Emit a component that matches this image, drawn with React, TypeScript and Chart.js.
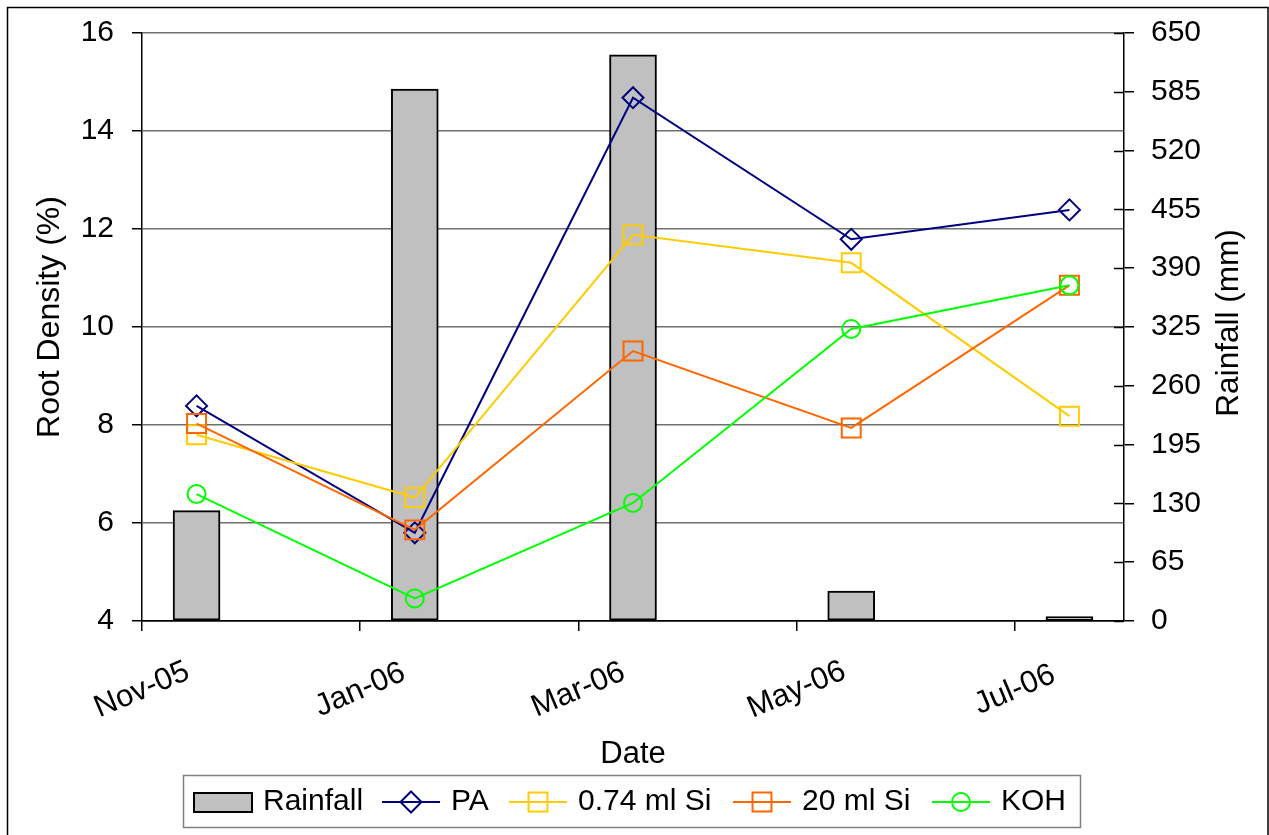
import React, { useEffect, useRef } from 'react';
import { Chart, registerables } from 'chart.js';

Chart.register(...registerables);

// ---- data ----
const sampleMonths = ['Nov-05', 'Jan-06', 'Mar-06', 'May-06', 'Jul-06'];
const tickLabels = ['Nov-05', 'Jan-06', 'Mar-06', 'May-06', 'Jul-06'];
const axisStart = 'Nov-05';
const axisEnd = 'Aug-06';
const rainfallMm = [122, 588, 626, 33, 5];
const paValues = [8.39, 5.8, 14.68, 11.79, 12.39];
const si074Values = [7.8, 6.52, 11.88, 11.31, 8.18];
const si20Values = [8.03, 5.86, 9.51, 7.94, 10.85];
const kohValues = [6.59, 4.46, 6.41, 9.96, 10.85];
const leftTitle = 'Root Density (%)';
const rightTitle = 'Rainfall (mm)';

const FONT = '"Liberation Sans", Arial, Helvetica, sans-serif';
const MONTHS = ['Jan', 'Feb', 'Mar', 'Apr', 'May', 'Jun', 'Jul', 'Aug', 'Sep', 'Oct', 'Nov', 'Dec'];
const monthIndex = (lbl: string) => {
  const [m, y] = lbl.split('-');
  return (2000 + Number(y)) * 12 + MONTHS.indexOf(m);
};
const base = monthIndex(axisStart);
const monthPos = (lbl: string) => monthIndex(lbl) - base;
const pointX = sampleMonths.map((m) => monthPos(m) + 0.5);
const tickPos = tickLabels.map((m) => monthPos(m));

const toXY = (vals: number[]) => vals.map((v, i) => ({ x: pointX[i], y: v }));

const LEGEND_X = [194, 382, 509, 733, 932];

const drawVerticalTitle = (ctx: CanvasRenderingContext2D, text: string, x: number, y: number, size: number) => {
  ctx.save();
  ctx.translate(x, y);
  ctx.rotate(-Math.PI / 2);
  ctx.font = `${size}px ${FONT}`;
  ctx.textAlign = 'center';
  ctx.textBaseline = 'middle';
  ctx.fillStyle = '#000';
  ctx.fillText(text, 0, 0);
  ctx.restore();
};

const decorPlugin = {
  id: 'decor',
  afterDraw(chart: any) {
    const ctx = chart.ctx as CanvasRenderingContext2D;
    const area = chart.chartArea;
    ctx.save();
    // outer border
    ctx.strokeStyle = '#000';
    ctx.lineWidth = 1.5;
    ctx.strokeRect(7.5, 7.5, 1260.5, 835);

    // inner half of right-axis ticks
    const y2 = chart.scales.y2;
    ctx.beginPath();
    y2.ticks.forEach((t: any) => {
      const py = Math.round(y2.getPixelForValue(t.value)) + 0.5;
      ctx.moveTo(y2.left - 10, py);
      ctx.lineTo(y2.left, py);
    });
    ctx.stroke();

    // x tick labels (centered on ticks, rotated)
    const xs = chart.scales.x;
    ctx.fillStyle = '#000';
    ctx.font = `31px ${FONT}`;
    ctx.textAlign = 'center';
    ctx.textBaseline = 'middle';
    tickPos.forEach((v, i) => {
      const px = xs.getPixelForValue(v);
      ctx.save();
      ctx.translate(px, 690);
      ctx.rotate((-23 * Math.PI) / 180);
      ctx.fillText(tickLabels[i], 0, 0);
      ctx.restore();
    });

    // axis titles
    const midY = (area.top + area.bottom) / 2;
    drawVerticalTitle(ctx, leftTitle, 50, midY - 10, 32);
    drawVerticalTitle(ctx, rightTitle, 1229, midY - 4, 31.5);

    // legend
    const ly = 802;
    ctx.strokeStyle = '#808080';
    ctx.lineWidth = 1.5;
    ctx.strokeRect(183.5, 775.5, 897, 52);
    ctx.font = `30px ${FONT}`;
    ctx.textAlign = 'left';
    ctx.textBaseline = 'middle';
    chart.data.datasets.forEach((ds: any, i: number) => {
      const x0 = LEGEND_X[i];
      if (ds.type === 'bar') {
        ctx.fillStyle = ds.backgroundColor;
        ctx.fillRect(x0, ly - 9, 58, 19);
        ctx.strokeStyle = '#000';
        ctx.lineWidth = 2;
        ctx.strokeRect(x0, ly - 9, 58, 19);
      } else {
        ctx.strokeStyle = ds.borderColor;
        ctx.lineWidth = 2;
        ctx.beginPath();
        ctx.moveTo(x0, ly);
        ctx.lineTo(x0 + 58, ly);
        ctx.stroke();
        const cx = x0 + 29;
        ctx.beginPath();
        if (ds.pointStyle === 'rectRot') {
          const r = ds.pointRadius;
          ctx.moveTo(cx, ly - r);
          ctx.lineTo(cx + r, ly);
          ctx.lineTo(cx, ly + r);
          ctx.lineTo(cx - r, ly);
          ctx.closePath();
        } else if (ds.pointStyle === 'rect') {
          const s = ds.pointRadius * Math.SQRT1_2;
          ctx.rect(cx - s, ly - s, 2 * s, 2 * s);
        } else {
          ctx.arc(cx, ly, ds.pointRadius, 0, Math.PI * 2);
        }
        ctx.stroke();
      }
      ctx.fillStyle = '#000';
      ctx.fillText(ds.label, x0 + 69, ly);
    });
    ctx.restore();
  },
};

const lineDs = (label: string, vals: number[], color: string, style: string, radius: number, order: number) => ({
  type: 'line' as const,
  label,
  data: toXY(vals),
  yAxisID: 'y',
  xAxisID: 'x',
  borderColor: color,
  backgroundColor: 'transparent',
  borderWidth: 2,
  pointStyle: style,
  pointRadius: radius,
  pointBorderWidth: 2,
  pointBorderColor: color,
  pointBackgroundColor: 'transparent',
  tension: 0,
  order,
});

export default function App() {
  const ref = useRef<HTMLCanvasElement>(null);
  useEffect(() => {
    if (!ref.current) return;
    const chart = new Chart(ref.current, {
      type: 'bar',
      data: {
        datasets: [
          {
            type: 'bar',
            label: 'Rainfall',
            data: toXY(rainfallMm),
            yAxisID: 'y2',
            xAxisID: 'x',
            backgroundColor: '#C0C0C0',
            borderColor: '#000',
            borderWidth: 2,
            borderSkipped: false,
            barThickness: 47,
            order: 10,
          } as any,
          lineDs('PA', paValues, '#000080', 'rectRot', 10.5, 4),
          lineDs('0.74 ml Si', si074Values, '#FFCC00', 'rect', 13.4, 3),
          lineDs('20 ml Si', si20Values, '#FF6600', 'rect', 13.4, 2),
          lineDs('KOH', kohValues, '#00FF00', 'circle', 9, 1),
        ],
      },
      options: {
        responsive: false,
        animation: false,
        events: [],
        layout: { padding: { top: 33, left: 0, right: 0, bottom: 60 } },
        plugins: { legend: { display: false }, tooltip: { enabled: false } },
        scales: {
          x: {
            type: 'linear',
            position: 'bottom',
            min: 0,
            max: monthPos(axisEnd),
            offset: false,
            afterBuildTicks: (s: any) => {
              s.ticks = tickPos.map((v) => ({ value: v }));
            },
            afterFit: (s: any) => {
              s.height = 154;
              s.paddingLeft = 0;
              s.paddingRight = 0;
            },
            grid: { drawOnChartArea: false, drawTicks: true, tickLength: 10, color: '#000', lineWidth: 1.5, offset: false },
            border: { color: '#000', width: 1.5 },
            ticks: { display: false, autoSkip: false },
            title: { display: true, text: 'Date', color: '#000', font: { family: FONT, size: 31 }, padding: { top: 0, bottom: 2 } },
          },
          y: {
            position: 'left',
            min: 4,
            max: 16,
            ticks: { stepSize: 2, padding: 18, color: '#000', font: { family: FONT, size: 30 } },
            afterFit: (s: any) => {
              s.width = 142;
              s.paddingTop = 0;
              s.paddingBottom = 0;
            },
            grid: {
              color: (c: any) => (c.tick && c.tick.value === 4 ? '#000' : '#707070'),
              tickColor: '#000',
              tickLength: 10,
              lineWidth: 1.5,
            },
            border: { color: '#000', width: 1.5 },
          },
          y2: {
            position: 'right',
            min: 0,
            max: 650,
            ticks: { stepSize: 65, padding: 17, color: '#000', font: { family: FONT, size: 30 } },
            afterFit: (s: any) => {
              s.width = 145;
              s.paddingTop = 0;
              s.paddingBottom = 0;
            },
            grid: { drawOnChartArea: false, tickLength: 10, color: '#000', lineWidth: 1.5 },
            border: { color: '#000', width: 1.5 },
          },
        },
      } as any,
      plugins: [decorPlugin],
    });
    return () => chart.destroy();
  }, []);
  return (
    <div style={{ position: 'absolute', left: 0, top: 0, width: 1269, height: 835, background: '#fff' }}>
      <canvas ref={ref} width={1269} height={835} style={{ display: 'block' }} />
    </div>
  );
}
